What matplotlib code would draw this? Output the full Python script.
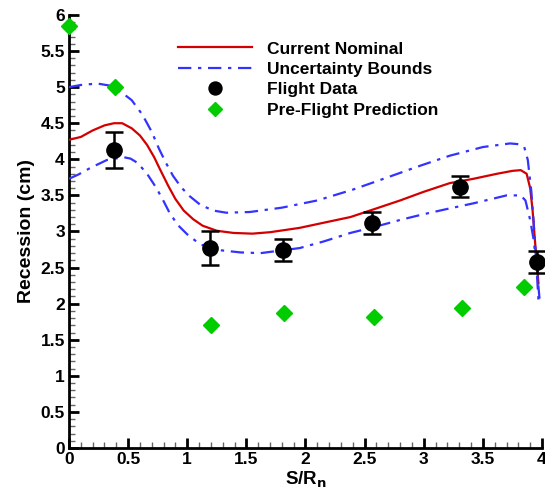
import matplotlib
matplotlib.use("Agg")
import matplotlib.pyplot as plt
from matplotlib.ticker import MultipleLocator, FormatStrFormatter

plt.rcParams['font.family'] = ['Liberation Sans', 'DejaVu Sans']
plt.rcParams['font.weight'] = 'bold'

# Current nominal
nom_x = [0.0, 0.1, 0.2, 0.3, 0.38, 0.45, 0.53, 0.6, 0.66, 0.72, 0.77, 0.84, 0.9, 0.97, 1.05, 1.13, 1.25,
         1.39, 1.55, 1.7, 1.95, 2.15, 2.38, 2.6, 2.8, 3.0, 3.22, 3.42, 3.62, 3.75, 3.82, 3.87, 3.9, 3.92,
         3.94, 3.96, 3.97]
nom_y = [4.27, 4.31, 4.40, 4.47, 4.5, 4.5, 4.43, 4.33, 4.2, 4.03, 3.86, 3.63, 3.45, 3.29, 3.17, 3.08, 3.01,
         2.98, 2.97, 2.99, 3.05, 3.12, 3.2, 3.32, 3.43, 3.55, 3.67, 3.73, 3.8, 3.84, 3.85, 3.8, 3.6, 3.3,
         2.88, 2.5, 2.28]

# Uncertainty bounds (upper)
up_x = [0.0, 0.1, 0.24, 0.35, 0.45, 0.53, 0.62, 0.7, 0.76, 0.82, 0.88, 0.95, 1.02, 1.11, 1.22, 1.33,
        1.53, 1.8, 2.1, 2.4, 2.66, 2.95, 3.22, 3.5, 3.73, 3.8, 3.85, 3.88, 3.91, 3.93, 3.95, 3.97]
up_y = [5.0, 5.03, 5.05, 5.02, 4.92, 4.82, 4.62, 4.38, 4.15, 3.95, 3.77, 3.61, 3.49, 3.37, 3.29, 3.26,
        3.27, 3.33, 3.43, 3.58, 3.73, 3.9, 4.05, 4.17, 4.22, 4.21, 4.17, 3.99, 3.55, 3.12, 2.6, 2.05]

# Uncertainty bounds (lower)
lo_x = [0.0, 0.08, 0.18, 0.32, 0.46, 0.52, 0.58, 0.66, 0.74, 0.8, 0.85, 0.92, 1.0, 1.11, 1.28, 1.45,
        1.62, 1.95, 2.15, 2.38, 2.6, 2.8, 3.0, 3.22, 3.42, 3.6, 3.7, 3.82, 3.86, 3.9, 3.93, 3.96, 3.98]
lo_y = [3.73, 3.79, 3.88, 3.99, 4.03, 4.01, 3.95, 3.8, 3.6, 3.42, 3.26, 3.09, 2.96, 2.82, 2.74, 2.71,
        2.7, 2.77, 2.86, 2.98, 3.07, 3.16, 3.24, 3.32, 3.39, 3.46, 3.5, 3.5, 3.43, 3.16, 2.88, 2.42, 2.05]

# Flight data with error bars
fd_x = [0.38, 1.19, 1.81, 2.56, 3.31, 3.96]
fd_y = [4.13, 2.77, 2.74, 3.12, 3.62, 2.58]
fd_hi = [4.38, 3.01, 2.89, 3.27, 3.77, 2.73]
fd_lo = [3.88, 2.53, 2.59, 2.97, 3.48, 2.42]

# Pre-flight prediction
pf_x = [0.0, 0.39, 1.2, 1.82, 2.58, 3.32, 3.85]
pf_y = [5.85, 5.0, 1.7, 1.87, 1.81, 1.94, 2.23]

fig = plt.figure(figsize=(5.45, 4.91), dpi=100)
ax = fig.add_axes([0.1266, 0.0876, 0.8679, 0.8819])

red = '#d40000'
blue = '#3333ff'
green = '#00cc00'

ax.plot(nom_x, nom_y, color=red, lw=1.6, label='Current Nominal', zorder=3)
ax.plot(up_x, up_y, color=blue, lw=1.6, dashes=(6, 3, 1.5, 3), label='Uncertainty Bounds', zorder=3)
ax.plot(lo_x, lo_y, color=blue, lw=1.6, dashes=(6, 3, 1.5, 3), zorder=3)

yerr = [[y - l for y, l in zip(fd_y, fd_lo)], [h - y for y, h in zip(fd_y, fd_hi)]]
ax.errorbar(fd_x, fd_y, yerr=yerr, fmt='none', ecolor='black', elinewidth=1.8, capsize=6.5,
            capthick=1.8, zorder=4, clip_on=False)
ax.plot(fd_x, fd_y, 'o', color='black', markersize=11, label='Flight Data', zorder=5, clip_on=False)
ax.plot(pf_x, pf_y, 'D', color=green, markersize=8.5, label='Pre-Flight Prediction', zorder=5,
        clip_on=False)

ax.set_xlim(0, 4)
ax.set_ylim(0, 6)
ax.xaxis.set_major_locator(MultipleLocator(0.5))
ax.xaxis.set_minor_locator(MultipleLocator(0.1))
ax.yaxis.set_major_locator(MultipleLocator(0.5))
ax.yaxis.set_minor_locator(MultipleLocator(0.1))
ax.xaxis.set_major_formatter(FormatStrFormatter('%g'))
ax.yaxis.set_major_formatter(FormatStrFormatter('%g'))

for s in ['top', 'right']:
    ax.spines[s].set_visible(False)
for s in ['left', 'bottom']:
    ax.spines[s].set_linewidth(2)

ax.tick_params(which='major', direction='in', length=7, width=2, labelsize=12.5, pad=3)
ax.tick_params(which='minor', direction='in', length=4, width=1, color='#666666')
ax.tick_params(top=False, right=False, which='both')

ax.set_xlabel('S/R$_\\mathbf{n}$', fontsize=13.5, fontweight='bold', labelpad=2)
ax.set_ylabel('Recession (cm)', fontsize=14, fontweight='bold', labelpad=4)

leg = ax.legend(loc='upper left', bbox_to_anchor=(0.215, 0.955), frameon=False, fontsize=12.5,
                handlelength=4.3, handletextpad=0.85, labelspacing=0.3, borderaxespad=0,
                markerscale=0.85)
for t in leg.get_texts():
    t.set_fontweight('bold')

fig.savefig('out.png', dpi=100)
